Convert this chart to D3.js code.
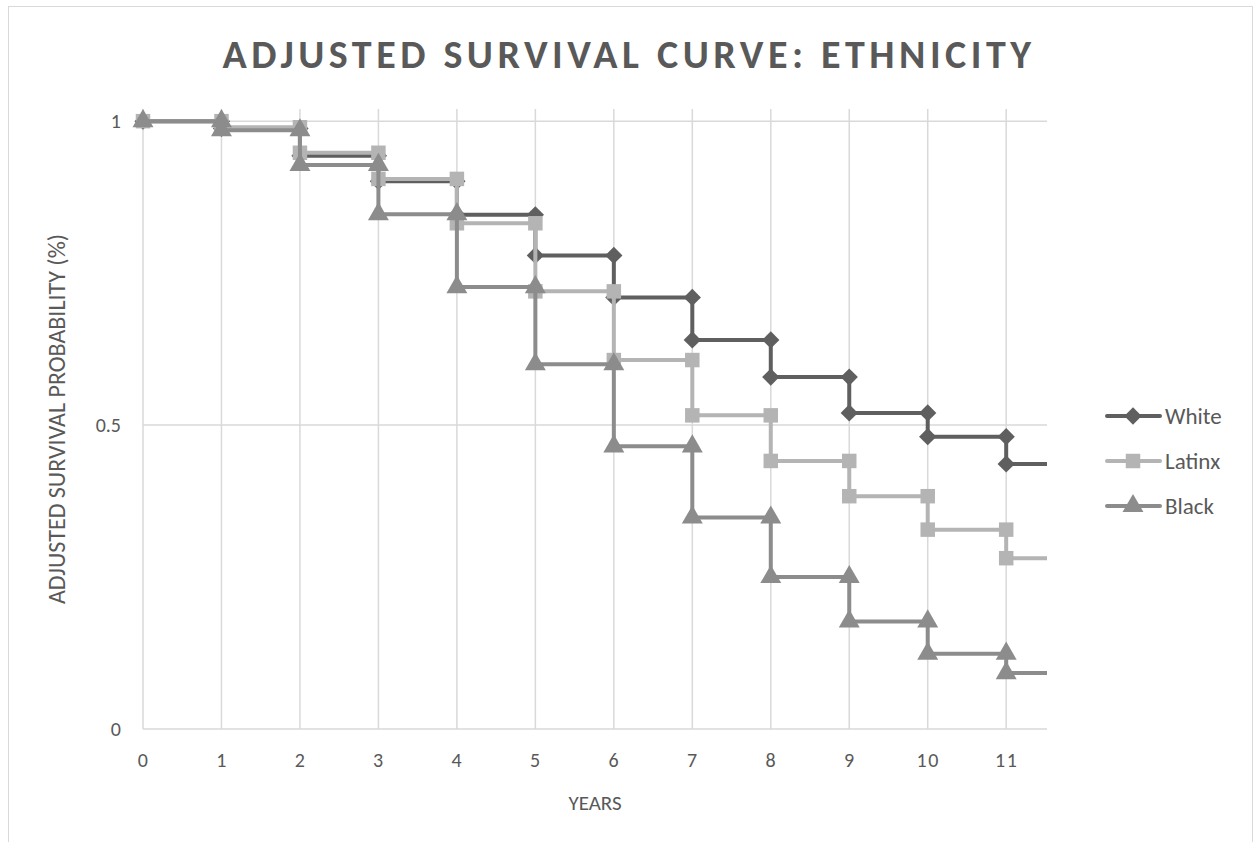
<!DOCTYPE html>
<html>
<head>
<meta charset="utf-8">
<script src="https://cdn.jsdelivr.net/npm/d3@7"></script>
<style>
    html, body { margin: 0; padding: 0; background: #fff; }
    #chart { width: 1257px; height: 842px; }
    text { font-family: Carlito, Calibri, Lato, sans-serif; fill: #595959; }
</style>
</head>
<body>
<div id="chart"></div>
<script>
var years = [0, 1, 2, 3, 4, 5, 6, 7, 8, 9, 10, 11];
var white = [1, 0.988, 0.943, 0.901, 0.846, 0.779, 0.710, 0.640, 0.579, 0.520, 0.481, 0.436];
var latinx = [1, 0.990, 0.948, 0.905, 0.832, 0.720, 0.607, 0.516, 0.441, 0.383, 0.328, 0.281];
var black = [1, 0.985, 0.928, 0.847, 0.727, 0.600, 0.465, 0.348, 0.250, 0.177, 0.124, 0.092];
var seriesNames = ['White', 'Latinx', 'Black'];
var yTicks = [0, 0.5, 1];
var xMax = 11.52;
var yMax = 1.02;

function survivalChart(container) {
    var self = this;

    self.container = container;

    self.colors = { White: '#5f5f5f', Latinx: '#b4b4b4', Black: '#8c8c8c' };
    self.symbols = { White: d3.symbolDiamond2, Latinx: d3.symbolSquare, Black: d3.symbolTriangle };
    self.symbolSize = { White: 190, Latinx: 210, Black: 190 };

    // step points: drop happens at each year, line runs on past the axis end
    self.stepPoints = function (vals) {
        var pts = [{ x: years[0], y: vals[0] }];
        for (var i = 1; i < vals.length; i++) {
            pts.push({ x: years[i], y: vals[i - 1] });
            pts.push({ x: years[i], y: vals[i] });
        }
        pts.push({ x: years[years.length - 1] + 1, y: vals[vals.length - 1], tail: true });
        return pts;
    };

    self.draw = function () {
        var svg = d3.select(self.container).append('svg')
            .attr('width', 1257)
            .attr('height', 842);

        svg.append('rect')
            .attr('x', 8.5).attr('y', 6.5)
            .attr('width', 1244).attr('height', 860)
            .attr('fill', '#fff')
            .attr('stroke', '#d9d9d9');

        var x = d3.scaleLinear().domain([0, xMax]).range([143, 1047]);
        var y = d3.scaleLinear().domain([0, yMax]).range([729, 109]);

        svg.append('defs').append('clipPath').attr('id', 'plotClip')
            .append('rect')
            .attr('x', x(0) - 12).attr('y', y(yMax) - 12)
            .attr('width', x(xMax) - x(0) + 12).attr('height', y(0) - y(yMax) + 24);

        var grid = svg.append('g');
        grid.selectAll('line.v').data(years).enter().append('line')
            .attr('class', 'v')
            .attr('x1', function (d) { return x(d); })
            .attr('x2', function (d) { return x(d); })
            .attr('y1', y(yMax)).attr('y2', y(0))
            .attr('stroke', '#d9d9d9').attr('stroke-width', 1.5);
        grid.selectAll('line.h').data(yTicks).enter().append('line')
            .attr('class', 'h')
            .attr('x1', x(0)).attr('x2', x(xMax))
            .attr('y1', function (d) { return y(d); })
            .attr('y2', function (d) { return y(d); })
            .attr('stroke', '#d9d9d9').attr('stroke-width', 1.5);

        var xAxis = svg.append('g')
            .attr('transform', 'translate(0,' + y(0) + ')')
            .call(d3.axisBottom(x).tickValues(years).tickSize(0).tickPadding(24).tickFormat(d3.format('d')));
        xAxis.select('.domain').remove();
        xAxis.selectAll('text').style('font-size', '20px').attr('fill', '#595959').style('letter-spacing', '1.5px');

        var yAxis = svg.append('g')
            .attr('transform', 'translate(' + x(0) + ',0)')
            .call(d3.axisLeft(y).tickValues(yTicks).tickSize(0).tickPadding(22).tickFormat(function (d) { return d; }));
        yAxis.select('.domain').remove();
        yAxis.selectAll('text').style('font-size', '20px').attr('fill', '#595959');

        svg.append('text')
            .attr('x', 629).attr('y', 68)
            .attr('text-anchor', 'middle')
            .style('font-size', '40px').style('font-weight', 'bold').style('letter-spacing', '4.5px')
            .text('ADJUSTED SURVIVAL CURVE: ETHNICITY');

        svg.append('text')
            .attr('x', (x(0) + x(xMax)) / 2).attr('y', 810)
            .attr('text-anchor', 'middle')
            .style('font-size', '21px')
            .text('YEARS');

        svg.append('text')
            .attr('transform', 'translate(65,' + ((y(0) + y(yMax)) / 2) + ') rotate(-90)')
            .attr('text-anchor', 'middle')
            .style('font-size', '24px')
            .text('ADJUSTED SURVIVAL PROBABILITY (%)');

        var data = { White: white, Latinx: latinx, Black: black };
        var line = d3.line().x(function (d) { return x(d.x); }).y(function (d) { return y(d.y); });
        var plot = svg.append('g').attr('clip-path', 'url(#plotClip)');

        seriesNames.forEach(function (name) {
            var pts = self.stepPoints(data[name]);
            var g = plot.append('g');
            g.append('path')
                .datum(pts)
                .attr('d', line)
                .attr('fill', 'none')
                .attr('stroke', self.colors[name])
                .attr('stroke-width', 4)
                .attr('stroke-linejoin', 'round');
            g.selectAll('path.mark').data(pts.filter(function (p) { return !p.tail; })).enter().append('path')
                .attr('class', 'mark')
                .attr('transform', function (d) { return 'translate(' + x(d.x) + ',' + y(d.y) + ')'; })
                .attr('d', d3.symbol().type(self.symbols[name]).size(self.symbolSize[name]))
                .attr('fill', self.colors[name]);
        });

        var legend = svg.append('g').attr('transform', 'translate(1107,416)');
        var item = legend.selectAll('g').data(seriesNames).enter().append('g')
            .attr('transform', function (d, i) { return 'translate(0,' + (i * 45) + ')'; });
        item.append('line')
            .attr('x1', 0).attr('x2', 53).attr('y1', 0).attr('y2', 0)
            .attr('stroke', function (d) { return self.colors[d]; })
            .attr('stroke-width', 4).attr('stroke-linecap', 'round');
        item.append('path')
            .attr('transform', 'translate(26,0)')
            .attr('d', function (d) { return d3.symbol().type(self.symbols[d]).size(self.symbolSize[d])(); })
            .attr('fill', function (d) { return self.colors[d]; });
        item.append('text')
            .attr('x', 58).attr('y', 0)
            .attr('dominant-baseline', 'central')
            .style('font-size', '23px')
            .text(function (d) { return d; });
    };
}

new survivalChart(document.getElementById('chart')).draw();
</script>
</body>
</html>
